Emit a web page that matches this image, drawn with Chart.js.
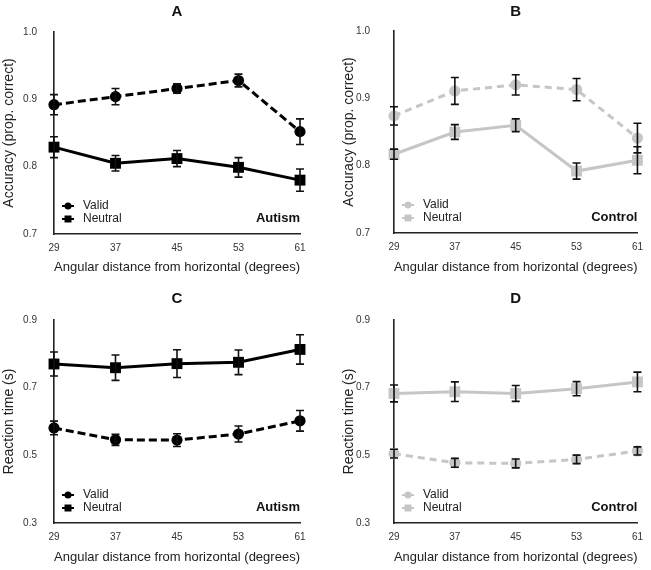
<!DOCTYPE html>
<html>
<head>
<meta charset="utf-8">
<title>Accuracy and reaction time by angular distance</title>
<script src="https://cdn.jsdelivr.net/npm/chart.js@4.4.1/dist/chart.umd.min.js"></script>
<style>
  body { margin: 0; background: #fff; }
  .panel { position: absolute; }
  .panel canvas { display: block; }
</style>
</head>
<body>
<div class="panel" style="left:0;top:0"><canvas id="chartA" width="325" height="285"></canvas></div>
<div class="panel" style="left:325px;top:0"><canvas id="chartB" width="326" height="285"></canvas></div>
<div class="panel" style="left:0;top:285px"><canvas id="chartC" width="325" height="285"></canvas></div>
<div class="panel" style="left:325px;top:285px"><canvas id="chartD" width="326" height="285"></canvas></div>

<script>
// x values (degrees)
const angles = [29, 37, 45, 53, 61];

// accuracy (prop. correct) and error half-widths
const accAutismValid = [0.892, 0.904, 0.916, 0.928, 0.852];
const accAutismValidErr = [0.015, 0.012, 0.007, 0.0095, 0.019];
const accAutismNeutral = [0.829, 0.805, 0.812, 0.799, 0.780];
const accAutismNeutralErr = [0.0155, 0.0115, 0.012, 0.0145, 0.0165];

const accControlValid = [0.874, 0.911, 0.920, 0.913, 0.841];
const accControlValidErr = [0.0135, 0.020, 0.015, 0.0165, 0.022];
const accControlNeutral = [0.817, 0.850, 0.860, 0.792, 0.808];
const accControlNeutralErr = [0.0075, 0.011, 0.0095, 0.012, 0.020];

// reaction time (s)
const rtAutismValid = [0.581, 0.546, 0.545, 0.563, 0.602];
const rtAutismValidErr = [0.020, 0.0165, 0.019, 0.0235, 0.0305];
const rtAutismNeutral = [0.770, 0.759, 0.771, 0.775, 0.813];
const rtAutismNeutralErr = [0.0355, 0.0375, 0.041, 0.0365, 0.0435];

const rtControlValid = [0.505, 0.478, 0.476, 0.488, 0.513];
const rtControlValidErr = [0.013, 0.013, 0.013, 0.0125, 0.012];
const rtControlNeutral = [0.683, 0.688, 0.683, 0.697, 0.717];
const rtControlNeutralErr = [0.025, 0.029, 0.0235, 0.021, 0.029];

const FONT = '"Liberation Sans", Arial, sans-serif';
const BLACK = '#000000';
const GREY = '#c6c6c6';

function series(label, values, errors, color, dashed, shape) {
  return {
    label: label,
    data: angles.map((a, i) => ({ x: a, y: values[i] })),
    errors: errors,
    borderColor: color,
    backgroundColor: color,
    borderWidth: 3,
    borderDash: dashed ? (color === BLACK ? [8, 4] : [7, 5]) : [],
    pointStyle: shape,
    pointRadius: shape === 'rect' ? 7.7 : 5.6,
    pointBorderWidth: 0,
    pointBackgroundColor: color,
    tension: 0,
    fill: false,
    clip: false,
  };
}

// black error bars on top of the markers
const errorBarPlugin = {
  id: 'errorBars',
  afterDatasetsDraw(chart) {
    const ctx = chart.ctx;
    const xs = chart.scales.x;
    const ys = chart.scales.y;
    ctx.save();
    ctx.strokeStyle = '#111';
    ctx.lineWidth = 1.6;
    chart.data.datasets.forEach((ds) => {
      ds.data.forEach((pt, i) => {
        const px = xs.getPixelForValue(pt.x);
        const top = ys.getPixelForValue(pt.y + ds.errors[i]);
        const bot = ys.getPixelForValue(pt.y - ds.errors[i]);
        ctx.beginPath();
        ctx.moveTo(px, top);
        ctx.lineTo(px, bot);
        ctx.moveTo(px - 4, top);
        ctx.lineTo(px + 4, top);
        ctx.moveTo(px - 4, bot);
        ctx.lineTo(px + 4, bot);
        ctx.stroke();
      });
    });
    ctx.restore();
  }
};

// legend in the lower-left corner and group name at lower right
const panelLegendPlugin = {
  id: 'panelLegend',
  afterDraw(chart, args, opts) {
    const ctx = chart.ctx;
    const area = chart.chartArea;
    ctx.save();
    chart.data.datasets.forEach((ds, i) => {
      const y = area.bottom - 28 + i * 13;
      const x = area.left + 14;
      ctx.strokeStyle = ds.borderColor;
      ctx.fillStyle = ds.borderColor;
      ctx.lineWidth = 2;
      ctx.beginPath();
      ctx.moveTo(x - 6, y);
      ctx.lineTo(x + 6, y);
      ctx.stroke();
      ctx.beginPath();
      if (ds.pointStyle === 'rect') {
        ctx.rect(x - 3.5, y - 3.5, 7, 7);
      } else {
        ctx.arc(x, y, 3.5, 0, Math.PI * 2);
      }
      ctx.fill();
      ctx.fillStyle = '#222';
      ctx.font = '12px ' + FONT;
      ctx.textAlign = 'left';
      ctx.textBaseline = 'middle';
      ctx.fillText(ds.label, area.left + 29, y);
    });
    ctx.font = 'bold 13px ' + FONT;
    ctx.fillStyle = '#111';
    ctx.textAlign = 'right';
    ctx.textBaseline = 'middle';
    ctx.fillText(opts.group, area.right, area.bottom - 16);
    ctx.restore();
  }
};

function buildChart(id, p) {
  const ctx = document.getElementById(id).getContext('2d');
  return new Chart(ctx, {
    type: 'line',
    data: { datasets: p.datasets },
    plugins: [errorBarPlugin, panelLegendPlugin],
    options: {
      responsive: false,
      animation: false,
      devicePixelRatio: 1,
      layout: { padding: { top: 0, right: p.right, bottom: 0, left: 0 } },
      plugins: {
        legend: { display: false },
        tooltip: { enabled: false },
        title: {
          display: true,
          text: p.title,
          fullSize: false,
          color: '#111',
          font: { family: FONT, size: 15, weight: 'bold' },
          padding: { top: p.titleTop, bottom: p.top - 18 - p.titleTop },
        },
        panelLegend: { group: p.group },
      },
      scales: {
        x: {
          type: 'linear',
          min: 29,
          max: 61,
          grid: { display: false, drawTicks: false },
          border: { display: true, color: '#222', width: 1.6 },
          ticks: { stepSize: 8, padding: 8, color: '#333', font: { family: FONT, size: 10 } },
          title: {
            display: true,
            text: 'Angular distance from horizontal (degrees)',
            color: '#222',
            font: { family: FONT, size: 13.3 },
            padding: { top: 0, bottom: p.xTitlePad },
          },
          afterFit(scale) { scale.height = 285 - p.bottom; },
        },
        y: {
          min: p.yMin,
          max: p.yMax,
          grid: { display: false, drawTicks: false },
          border: { display: true, color: '#222', width: 1.6 },
          ticks: {
            stepSize: p.yStep,
            padding: p.yTickPad,
            color: '#333',
            font: { family: FONT, size: 10 },
            callback: (v) => v.toFixed(1),
          },
          title: {
            display: true,
            text: p.yTitle,
            color: '#222',
            font: { family: FONT, size: 14 },
            padding: { top: p.yTitlePad, bottom: 0 },
          },
          afterFit(scale) { scale.width = p.left; },
        },
      },
    },
  });
}

buildChart('chartA', {
  title: 'A', group: 'Autism',
  datasets: [
    series('Valid', accAutismValid, accAutismValidErr, BLACK, true, 'circle'),
    series('Neutral', accAutismNeutral, accAutismNeutralErr, BLACK, false, 'rect'),
  ],
  yMin: 0.7, yMax: 1.0, yStep: 0.1, yTitle: 'Accuracy (prop. correct)',
  left: 54, right: 25, top: 32, bottom: 234, titleTop: 3,
  yTickPad: 17, yTitlePad: 1, xTitlePad: 10,
});

buildChart('chartB', {
  title: 'B', group: 'Control',
  datasets: [
    series('Valid', accControlValid, accControlValidErr, GREY, true, 'circle'),
    series('Neutral', accControlNeutral, accControlNeutralErr, GREY, false, 'rect'),
  ],
  yMin: 0.7, yMax: 1.0, yStep: 0.1, yTitle: 'Accuracy (prop. correct)',
  left: 69, right: 13, top: 31, bottom: 233, titleTop: 3,
  yTickPad: 24, yTitlePad: 16, xTitlePad: 10,
});

buildChart('chartC', {
  title: 'C', group: 'Autism',
  datasets: [
    series('Valid', rtAutismValid, rtAutismValidErr, BLACK, true, 'circle'),
    series('Neutral', rtAutismNeutral, rtAutismNeutralErr, BLACK, false, 'rect'),
  ],
  yMin: 0.3, yMax: 0.9, yStep: 0.2, yTitle: 'Reaction time (s)',
  left: 54, right: 25, top: 35, bottom: 238, titleTop: 5,
  yTickPad: 17, yTitlePad: 1, xTitlePad: 5,
});

buildChart('chartD', {
  title: 'D', group: 'Control',
  datasets: [
    series('Valid', rtControlValid, rtControlValidErr, GREY, true, 'circle'),
    series('Neutral', rtControlNeutral, rtControlNeutralErr, GREY, false, 'rect'),
  ],
  yMin: 0.3, yMax: 0.9, yStep: 0.2, yTitle: 'Reaction time (s)',
  left: 69, right: 13, top: 35, bottom: 238, titleTop: 5,
  yTickPad: 24, yTitlePad: 16, xTitlePad: 5,
});
</script>
</body>
</html>
